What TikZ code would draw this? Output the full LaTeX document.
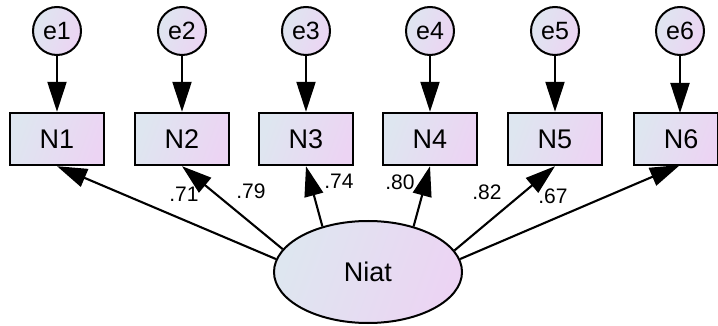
\documentclass[tikz,border=0pt]{standalone}
\usepackage{fontspec}
\setmainfont{Liberation Sans}
\usetikzlibrary{arrows.meta,shapes.geometric}
\definecolor{lblue}{RGB}{222,230,240}
\definecolor{lpurp}{RGB}{236,212,243}
\tikzset{
  fillgrad/.style={left color=lblue,right color=lpurp,shading angle=70},
  errnode/.style={circle,draw=black,line width=2pt,fillgrad,minimum size=48pt,inner sep=0pt,font=\fontsize{25}{28}\selectfont},
  obsnode/.style={rectangle,draw=black,line width=2.4pt,fillgrad,minimum width=94pt,minimum height=52pt,inner sep=0pt,font=\fontsize{27}{30}\selectfont},
  latnode/.style={ellipse,draw=black,line width=2pt,fillgrad,minimum width=188pt,minimum height=102pt,inner sep=0pt,font=\fontsize{27}{30}\selectfont},
  conn/.style={line width=2.1pt,-{Triangle[length=30pt,width=19pt]}},
  lbl/.style={font=\fontsize{21}{24}\selectfont,inner sep=0pt}
}
\begin{document}
\begin{tikzpicture}[x=1pt,y=-1pt]
\useasboundingbox (0,0) rectangle (718,326);
\begin{scope}
\clip (0,0) rectangle (718,326);
\foreach \i/\x in {1/57,2/182,3/306,4/430,5/555}{
  \node[errnode] (e\i) at (\x,31) {e\i};
  \node[obsnode] (N\i) at (\x,139) {N\i};
  \draw[conn] (e\i) -- (N\i.north);
}
\node[errnode] (e6) at (680,31) {e6};
\node[obsnode,minimum width=84pt,anchor=west] (N6) at (633,139) {\hspace*{10pt}N6};
\coordinate (N6b) at (680,165);
\coordinate (N6t) at (680,113);
\draw[conn] (e6) -- (N6t);
\node[latnode] (niat) at (368,272) {Niat};
\draw[conn] (niat.172) -- (N1.south);
\draw[conn] (niat.165.5) -- (N2.south);
\draw[conn] (niat.135) -- (N3.south);
\draw[conn] (niat.45) -- (N4.south);
\draw[conn] (niat.14.5) -- (N5.south);
\draw[conn] (niat.8) -- (N6b);
\node[lbl] (l1) at (184,194) {.71};
\node[lbl] (l2) at (251,191) {.79};
\node[lbl] (l3) at (339,181) {.74};
\node[lbl] (l4) at (400,182) {.80};
\node[lbl] (l5) at (487,192) {.82};
\node[lbl] (l6) at (553,196) {.67};
\end{scope}
\end{tikzpicture}
\end{document}
